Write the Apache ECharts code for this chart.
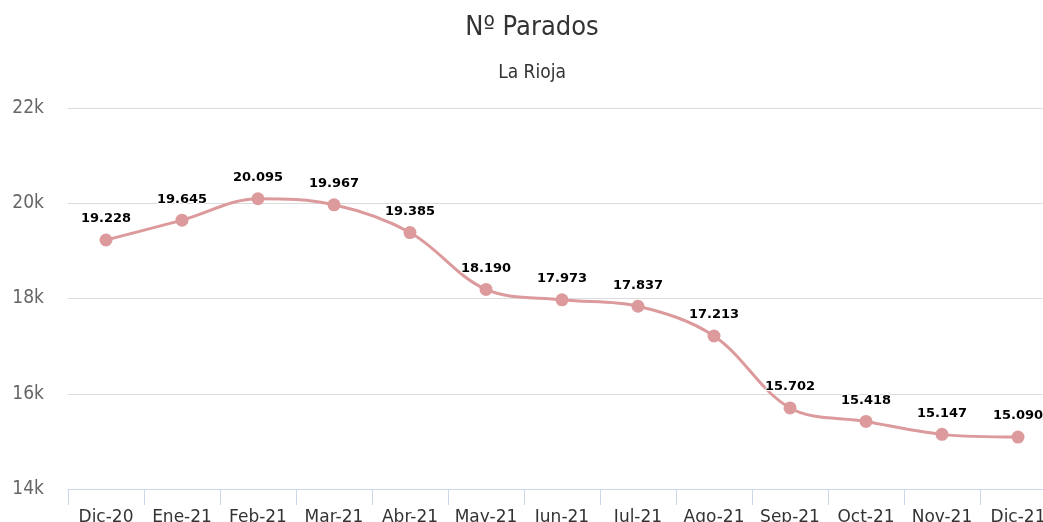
<!DOCTYPE html>
<html>
<head>
<meta charset="utf-8">
<script src="https://cdn.jsdelivr.net/npm/echarts@6/dist/echarts.min.js"></script>
<style>
  html, body { margin: 0; padding: 0; background: #fff; overflow: hidden; }
  /* the plot runs a little past the right edge of the window, as in the original */
  #echarts_main { width: 1056px; height: 522px; }
</style>
</head>
<body>
<div id="echarts_main"></div>
<script>
// datos
const months = ['Dic-20', 'Ene-21', 'Feb-21', 'Mar-21', 'Abr-21', 'May-21', 'Jun-21',
    'Jul-21', 'Ago-21', 'Sep-21', 'Oct-21', 'Nov-21', 'Dic-21']
const parados = [19228, 19645, 20095, 19967, 19385, 18190, 17973, 17837, 17213, 15702, 15418, 15147, 15090]
const yTicks = [14000, 16000, 18000, 20000, 22000]

const narrow = '"Liberation Sans Narrow", "DejaVu Sans Condensed", "Open Sans", sans-serif'

const chart = echarts.init(document.getElementById('echarts_main'))

const option = {
    animation: false,
    title: [
        {
            text: 'Nº Parados',
            left: 527, top: 9, textAlign: 'center',
            textStyle: { fontFamily: narrow, fontSize: 27, fontWeight: 'normal', color: '#333' }
        },
        {
            text: 'La Rioja',
            left: 527, top: 59, textAlign: 'center',
            textStyle: { fontFamily: narrow, fontSize: 19, fontWeight: 'normal', color: '#333' }
        }
    ],
    grid: {
        left: 68, top: 108, right: 0, height: 381,
        containLabel: false, outerBoundsMode: 'none'
    },
    xAxis: {
        type: 'category',
        data: months,
        boundaryGap: true,
        axisLine: { lineStyle: { color: '#ccd6eb', width: 1 } },
        axisTick: { show: true, length: 16, lineStyle: { color: '#ccd6eb' } },
        axisLabel: {
            color: '#333', fontFamily: '"DejaVu Sans", sans-serif', fontSize: 17,
            margin: 20, interval: 0
        },
        splitLine: { show: false }
    },
    yAxis: {
        type: 'value',
        min: yTicks[0],
        max: yTicks[yTicks.length - 1],
        interval: 2000,
        axisLine: { show: false },
        axisTick: { show: false },
        axisLabel: {
            color: '#666', fontFamily: narrow, fontSize: 19, margin: 24,
            formatter: v => (v / 1000) + 'k'
        },
        splitLine: { lineStyle: { color: '#dcdcdc', width: 1 } }
    },
    series: [
        {
            name: 'Parados',
            type: 'line',
            data: parados,
            smooth: 0.35,
            symbol: 'circle',
            symbolSize: 13,
            lineStyle: { color: '#dc9a9c', width: 3 },
            itemStyle: { color: '#dc9a9c' },
            label: {
                show: true,
                position: 'top',
                distance: 8,
                color: '#000',
                fontFamily: '"DejaVu Sans", sans-serif',
                fontWeight: 'bold',
                fontSize: 13,
                textBorderColor: '#fff',
                textBorderWidth: 2,
                formatter: p => p.value.toLocaleString('de-DE')
            }
        }
    ]
}

chart.setOption(option)
</script>
</body>
</html>
